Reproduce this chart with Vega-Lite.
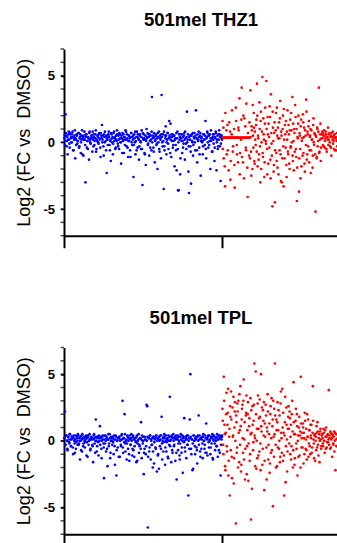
{
"$schema":"https://vega.github.io/schema/vega-lite/v6.json",
"padding":{"left":15,"top":10,"right":0,"bottom":0},
"bounds":"flush",
"spacing":111.5,
"config":{
 "font":"Liberation Sans",
 "view":{"stroke":null},
 "axisY":{"domainColor":"black","domainWidth":2,"tickColor":"black","tickWidth":1.5,"tickSize":3.5,"labelFontSize":13,"labelFontWeight":"bold","labelColor":"black","labelPadding":6,"labelOverlap":false,"titleFontSize":18,"titleFontWeight":"normal","titleColor":"black","titlePadding":9,"grid":false},
 "axisX":{"domainColor":"black","domainWidth":2,"tickColor":"black","tickWidth":2,"tickSize":12,"labels":false,"grid":false},
 "title":{"fontSize":18.5,"fontWeight":"bold","color":"black","offset":19,"anchor":"middle"}
},
"datasets":{
"minor":[{"v":-7},{"v":-6},{"v":-5},{"v":-4},{"v":-3},{"v":-2},{"v":-1},{"v":0},{"v":1},{"v":2},{"v":3},{"v":4},{"v":5},{"v":6},{"v":7}],
"blue":[
{"x":0.2,"t":0.3,"p":0.2},{"x":0.6,"t":-0.2,"p":2.2},{"x":1.0,"t":2.1,"p":-0.3},{"x":1.5,"t":0.5,"p":0.4},{"x":1.9,"t":0.1,"p":0.0},{"x":2.3,"t":-0.9,"p":-0.7},{"x":2.8,"t":0.6,"p":0.3},{"x":3.2,"t":0.2,"p":-0.1},{"x":3.6,"t":-0.4,"p":0.5},{"x":4.1,"t":0.7,"p":0.1},
{"x":4.5,"t":0.4,"p":-0.4},{"x":4.9,"t":0.0,"p":0.3},{"x":5.4,"t":0.8,"p":0.2},{"x":5.8,"t":-0.6,"p":-1.0},{"x":6.2,"t":0.3,"p":0.4},{"x":6.7,"t":0.5,"p":-0.2},{"x":7.1,"t":-1.2,"p":0.1},{"x":7.5,"t":0.2,"p":-0.6},{"x":8.0,"t":0.6,"p":0.3},{"x":8.4,"t":-0.1,"p":0.0},
{"x":8.8,"t":0.1,"p":0.5},{"x":9.3,"t":0.7,"p":-0.3},{"x":9.7,"t":-0.3,"p":0.2},{"x":10.1,"t":0.4,"p":-1.4},{"x":10.6,"t":-0.8,"p":0.0},{"x":11.0,"t":0.2,"p":0.4},{"x":11.4,"t":0.9,"p":-0.8},{"x":11.9,"t":0.3,"p":0.2},{"x":12.3,"t":-1.0,"p":-0.2},{"x":12.7,"t":0.5,"p":0.3},
{"x":13.2,"t":0.2,"p":-0.5},{"x":13.6,"t":-3.0,"p":0.1},{"x":14.0,"t":0.6,"p":0.4},{"x":14.5,"t":-0.4,"p":-0.1},{"x":14.9,"t":0.1,"p":-1.2},{"x":15.3,"t":0.4,"p":0.3},{"x":15.8,"t":-1.3,"p":0.0},{"x":16.2,"t":0.8,"p":0.5},{"x":16.6,"t":0.0,"p":-0.7},{"x":17.1,"t":0.3,"p":0.2},
{"x":17.5,"t":0.5,"p":0.1},{"x":17.9,"t":-0.7,"p":-0.3},{"x":18.4,"t":0.2,"p":-1.6},{"x":18.8,"t":0.6,"p":0.4},{"x":19.2,"t":-0.2,"p":0.2},{"x":19.7,"t":0.3,"p":-0.9},{"x":20.1,"t":0.9,"p":1.6},{"x":20.5,"t":-0.5,"p":0.0},{"x":21.0,"t":0.1,"p":-0.4},{"x":21.4,"t":0.4,"p":0.3},
{"x":21.8,"t":-0.1,"p":-1.1},{"x":22.3,"t":0.7,"p":0.2},{"x":22.7,"t":0.3,"p":1.1},{"x":23.1,"t":-1.1,"p":0.3},{"x":23.6,"t":0.5,"p":-0.6},{"x":24.0,"t":1.3,"p":0.0},{"x":24.4,"t":0.2,"p":0.4},{"x":24.9,"t":-0.3,"p":-0.2},{"x":25.3,"t":0.6,"p":-2.8},{"x":25.7,"t":0.0,"p":0.1},
{"x":26.2,"t":0.4,"p":0.4},{"x":26.6,"t":-0.6,"p":-0.8},{"x":27.0,"t":-2.3,"p":0.2},{"x":27.5,"t":0.2,"p":-1.9},{"x":27.9,"t":0.5,"p":0.1},{"x":28.3,"t":0.8,"p":-0.4},{"x":28.8,"t":-0.2,"p":0.5},{"x":29.2,"t":0.1,"p":-1.3},{"x":29.6,"t":-1.4,"p":0.0},{"x":30.1,"t":0.6,"p":0.2},
{"x":30.5,"t":0.3,"p":-0.3},{"x":30.9,"t":-0.9,"p":0.3},{"x":31.4,"t":0.7,"p":-1.0},{"x":31.8,"t":0.1,"p":0.1},{"x":32.2,"t":0.4,"p":-1.8},{"x":32.7,"t":-0.4,"p":0.4},{"x":33.1,"t":0.2,"p":-2.6},{"x":33.5,"t":0.9,"p":0.0},{"x":34.0,"t":-0.1,"p":-0.5},{"x":34.4,"t":0.5,"p":0.2},
{"x":34.8,"t":-0.5,"p":0.3},{"x":35.3,"t":0.6,"p":-1.2},{"x":35.7,"t":0.0,"p":0.1},{"x":36.1,"t":-1.6,"p":-0.4},{"x":36.6,"t":0.3,"p":0.5},{"x":37.0,"t":0.7,"p":3.0},{"x":37.4,"t":0.1,"p":-0.9},{"x":37.9,"t":-0.8,"p":0.2},{"x":38.3,"t":0.4,"p":2.0},{"x":38.7,"t":0.2,"p":-0.2},
{"x":39.2,"t":0.8,"p":0.0},{"x":39.6,"t":-0.3,"p":-1.4},{"x":40.0,"t":0.3,"p":0.4},{"x":40.5,"t":-1.1,"p":-0.6},{"x":40.9,"t":0.5,"p":0.2},{"x":41.3,"t":0.1,"p":-1.5},{"x":41.8,"t":-0.6,"p":0.1},{"x":42.2,"t":0.4,"p":-0.3},{"x":42.6,"t":0.7,"p":0.5},{"x":43.1,"t":-0.2,"p":-1.1},
{"x":43.5,"t":0.2,"p":0.3},{"x":43.9,"t":-2.6,"p":-0.7},{"x":44.4,"t":0.6,"p":-1.2},{"x":44.8,"t":0.0,"p":0.2},{"x":45.2,"t":-0.9,"p":0.0},{"x":45.7,"t":0.4,"p":-1.6},{"x":46.1,"t":0.8,"p":0.4},{"x":46.5,"t":-0.4,"p":-0.2},{"x":47.0,"t":0.3,"p":0.1},{"x":47.4,"t":-1.3,"p":-0.9},
{"x":47.8,"t":0.5,"p":-0.4},{"x":48.3,"t":0.1,"p":0.2},{"x":48.7,"t":-0.5,"p":1.4},{"x":49.1,"t":0.9,"p":-1.3},{"x":49.6,"t":-3.2,"p":0.0},{"x":50.0,"t":0.3,"p":0.3},{"x":50.4,"t":0.6,"p":-2.5},{"x":50.9,"t":-0.8,"p":-0.6},{"x":51.3,"t":0.2,"p":0.1},{"x":51.7,"t":-1.7,"p":-1.0},
{"x":52.2,"t":1.0,"p":2.7},{"x":52.6,"t":0.4,"p":2.6},{"x":53.0,"t":-0.2,"p":-6.5},{"x":53.5,"t":0.6,"p":0.2},{"x":53.9,"t":-1.0,"p":-0.8},{"x":54.3,"t":0.1,"p":0.4},{"x":54.8,"t":0.5,"p":-1.4},{"x":55.2,"t":-0.6,"p":0.0},{"x":55.6,"t":3.4,"p":-0.3},{"x":56.1,"t":0.3,"p":-2.0},
{"x":56.5,"t":-0.4,"p":0.3},{"x":56.9,"t":0.7,"p":-1.7},{"x":57.4,"t":-1.5,"p":0.1},{"x":57.8,"t":0.2,"p":-0.5},{"x":58.2,"t":0.5,"p":0.4},{"x":58.7,"t":-0.1,"p":-2.3},{"x":59.1,"t":-2.0,"p":0.2},{"x":59.5,"t":0.4,"p":-1.0},{"x":60.0,"t":0.8,"p":-2.1},{"x":60.4,"t":-0.7,"p":0.0},
{"x":60.8,"t":0.3,"p":0.4},{"x":61.3,"t":-1.2,"p":-0.6},{"x":61.7,"t":3.55,"p":1.8},{"x":62.1,"t":0.0,"p":-1.4},{"x":62.6,"t":0.6,"p":0.2},{"x":63.0,"t":-3.5,"p":-0.1},{"x":63.4,"t":-0.3,"p":0.5},{"x":63.9,"t":0.5,"p":-1.8},{"x":64.3,"t":1.2,"p":0.0},{"x":64.7,"t":-0.9,"p":-0.8},
{"x":65.2,"t":0.2,"p":0.1},{"x":65.6,"t":0.7,"p":-1.2},{"x":66.0,"t":-0.5,"p":0.4},{"x":66.5,"t":1.6,"p":-0.3},{"x":66.9,"t":0.4,"p":3.3},{"x":67.3,"t":1.4,"p":0.0},{"x":67.8,"t":-1.1,"p":-1.6},{"x":68.2,"t":0.1,"p":0.3},{"x":68.6,"t":0.6,"p":-0.9},{"x":69.1,"t":-0.2,"p":0.5},
{"x":69.5,"t":0.5,"p":-0.4},{"x":69.9,"t":-1.8,"p":0.2},{"x":70.4,"t":0.3,"p":-1.5},{"x":70.8,"t":-0.6,"p":0.4},{"x":71.2,"t":-2.1,"p":-2.9},{"x":71.7,"t":0.8,"p":0.1},{"x":72.1,"t":-3.6,"p":-0.7},{"x":72.5,"t":-3.6,"p":0.3},{"x":73.0,"t":0.2,"p":-1.1},{"x":73.4,"t":-2.4,"p":-0.2},
{"x":73.8,"t":0.6,"p":0.5},{"x":74.3,"t":0.1,"p":-0.9},{"x":74.7,"t":-0.8,"p":0.0},{"x":75.1,"t":0.4,"p":-2.4},{"x":75.6,"t":-0.1,"p":0.3},{"x":76.0,"t":0.7,"p":1.7},{"x":76.4,"t":-1.3,"p":-0.5},{"x":76.9,"t":0.3,"p":0.2},{"x":77.3,"t":-0.5,"p":-1.3},{"x":77.7,"t":2.3,"p":0.4},
{"x":78.2,"t":0.2,"p":-0.3},{"x":78.6,"t":-2.2,"p":-4.1},{"x":79.0,"t":-3.8,"p":0.2},{"x":79.5,"t":0.5,"p":1.6},{"x":79.9,"t":-0.3,"p":5.0},{"x":80.3,"t":-3.1,"p":-0.6},{"x":80.8,"t":0.6,"p":0.1},{"x":81.2,"t":0.0,"p":-2.2},{"x":81.6,"t":-1.0,"p":-2.1},{"x":82.1,"t":0.4,"p":0.4},
{"x":82.5,"t":0.7,"p":0.0},{"x":82.9,"t":-0.6,"p":-1.0},{"x":83.4,"t":2.4,"p":0.3},{"x":83.8,"t":0.3,"p":-0.5},{"x":84.2,"t":-1.5,"p":-1.7},{"x":84.7,"t":0.1,"p":0.4},{"x":85.1,"t":0.8,"p":1.9},{"x":85.5,"t":-0.4,"p":0.1},{"x":86.0,"t":0.5,"p":-0.8},{"x":86.4,"t":-2.5,"p":0.2},
{"x":86.8,"t":0.3,"p":-0.6},{"x":87.3,"t":0.0,"p":0.3},{"x":87.7,"t":-0.9,"p":-1.3},{"x":88.1,"t":0.6,"p":0.5},{"x":88.6,"t":0.2,"p":0.0},{"x":89.0,"t":-0.2,"p":-0.3},{"x":89.4,"t":1.6,"p":-0.9},{"x":89.9,"t":-1.2,"p":1.3},{"x":90.3,"t":0.4,"p":0.2},{"x":90.7,"t":0.7,"p":-1.1},
{"x":91.2,"t":-0.4,"p":0.4},{"x":91.6,"t":0.5,"p":-0.5},{"x":92.0,"t":0.1,"p":0.1},{"x":92.5,"t":-2.0,"p":-1.0},{"x":92.9,"t":0.9,"p":0.3},{"x":93.3,"t":0.3,"p":-0.2},{"x":93.8,"t":-0.7,"p":0.5},{"x":94.2,"t":0.6,"p":-1.4},{"x":94.6,"t":-0.1,"p":0.0},{"x":95.1,"t":-1.4,"p":0.3},
{"x":95.5,"t":0.4,"p":-0.7},{"x":95.9,"t":0.8,"p":0.2},{"x":96.4,"t":-2.1,"p":-0.4},{"x":96.8,"t":0.2,"p":0.5},{"x":97.2,"t":-0.5,"p":-1.2},{"x":97.7,"t":0.6,"p":0.1},{"x":98.1,"t":0.9,"p":0.4},{"x":98.5,"t":-0.3,"p":-0.9},{"x":99.0,"t":-2.9,"p":-2.6},{"x":99.4,"t":0.5,"p":0.3},{"x":99.8,"t":0.3,"p":0.4},
{"x":0.4,"t":0.5,"p":0.2},{"x":0.8,"t":0.1,"p":-0.3},{"x":1.2,"t":0.7,"p":0.4},{"x":1.7,"t":-0.3,"p":0.0},{"x":2.1,"t":0.4,"p":-0.6},{"x":2.5,"t":0.2,"p":0.3},{"x":3.0,"t":0.8,"p":0.1},{"x":3.4,"t":-0.1,"p":-0.2},{"x":3.8,"t":0.6,"p":0.5},{"x":4.3,"t":0.3,"p":-0.4},
{"x":4.7,"t":0.0,"p":0.1},{"x":5.1,"t":0.6,"p":0.3},{"x":5.6,"t":0.4,"p":-0.5},{"x":6.0,"t":-0.6,"p":0.2},{"x":6.4,"t":0.2,"p":0.0},{"x":6.9,"t":0.9,"p":-0.9},{"x":7.3,"t":0.3,"p":0.4},{"x":7.7,"t":-0.2,"p":-0.1},{"x":8.2,"t":0.5,"p":0.2},{"x":8.6,"t":0.1,"p":-0.3},
{"x":9.0,"t":0.7,"p":0.4},{"x":9.5,"t":-0.4,"p":-0.2},{"x":9.9,"t":0.3,"p":0.0},{"x":10.3,"t":0.6,"p":0.3},{"x":10.8,"t":0.0,"p":-0.7},{"x":11.2,"t":0.5,"p":0.1},{"x":11.6,"t":-0.9,"p":0.5},{"x":12.1,"t":0.4,"p":-0.4},{"x":12.5,"t":0.2,"p":0.2},{"x":12.9,"t":0.8,"p":0.0},
{"x":13.4,"t":-0.2,"p":-0.1},{"x":13.8,"t":0.4,"p":0.3},{"x":14.2,"t":0.6,"p":-1.1},{"x":14.7,"t":0.1,"p":0.2},{"x":15.1,"t":-0.5,"p":0.4},{"x":15.5,"t":0.3,"p":-0.3},{"x":16.0,"t":0.7,"p":0.0},{"x":16.4,"t":0.2,"p":0.1},{"x":16.8,"t":-0.1,"p":-0.6},{"x":17.3,"t":0.5,"p":0.3},
{"x":17.7,"t":0.3,"p":0.2},{"x":18.1,"t":0.8,"p":-0.4},{"x":18.6,"t":-0.3,"p":0.1},{"x":19.0,"t":0.4,"p":0.5},{"x":19.4,"t":0.1,"p":-0.2},{"x":19.9,"t":0.6,"p":0.0},{"x":20.3,"t":-0.7,"p":0.3},{"x":20.7,"t":0.2,"p":-0.8},{"x":21.2,"t":0.5,"p":0.2},{"x":21.6,"t":0.0,"p":-0.1},
{"x":22.0,"t":0.6,"p":0.4},{"x":22.5,"t":0.2,"p":0.0},{"x":22.9,"t":-0.4,"p":-0.3},{"x":23.3,"t":0.7,"p":0.2},{"x":23.8,"t":0.3,"p":-1.3},{"x":24.2,"t":0.0,"p":0.3},{"x":24.6,"t":0.5,"p":0.1},{"x":25.1,"t":-1.0,"p":-0.5},{"x":25.5,"t":0.4,"p":0.4},{"x":25.9,"t":0.8,"p":-0.2},
{"x":26.4,"t":0.1,"p":0.0},{"x":26.8,"t":0.5,"p":0.3},{"x":27.2,"t":0.3,"p":-0.6},{"x":27.7,"t":-0.2,"p":0.1},{"x":28.1,"t":0.6,"p":0.5},{"x":28.5,"t":0.4,"p":-0.2},{"x":29.0,"t":-0.6,"p":0.2},{"x":29.4,"t":0.2,"p":-0.9},{"x":29.8,"t":0.7,"p":0.3},{"x":30.3,"t":0.0,"p":0.0},
{"x":30.7,"t":0.4,"p":0.2},{"x":31.1,"t":-0.1,"p":-0.1},{"x":31.6,"t":0.8,"p":0.4},{"x":32.0,"t":0.3,"p":-0.4},{"x":32.4,"t":-0.5,"p":0.1},{"x":32.9,"t":0.5,"p":0.3},{"x":33.3,"t":0.1,"p":-0.7},{"x":33.7,"t":0.6,"p":0.0},{"x":34.2,"t":-0.3,"p":0.2},{"x":34.6,"t":0.2,"p":-1.2},
{"x":35.0,"t":0.7,"p":0.3},{"x":35.5,"t":0.3,"p":0.0},{"x":35.9,"t":0.0,"p":-0.3},{"x":36.3,"t":0.5,"p":0.4},{"x":36.8,"t":-0.8,"p":0.1},{"x":37.2,"t":0.2,"p":-0.5},{"x":37.6,"t":0.6,"p":0.2},{"x":38.1,"t":0.4,"p":-0.1},{"x":38.5,"t":-0.2,"p":0.5},{"x":38.9,"t":0.9,"p":-0.8},
{"x":39.4,"t":0.2,"p":0.1},{"x":39.8,"t":0.6,"p":-0.2},{"x":40.2,"t":-0.4,"p":0.3},{"x":40.7,"t":0.1,"p":0.0},{"x":41.1,"t":0.5,"p":-1.0},{"x":41.5,"t":0.3,"p":0.4},{"x":42.0,"t":-1.1,"p":-0.3},{"x":42.4,"t":0.7,"p":0.2},{"x":42.8,"t":0.0,"p":0.0},{"x":43.3,"t":0.4,"p":-0.6},
{"x":43.7,"t":0.5,"p":0.4},{"x":44.1,"t":-0.2,"p":0.1},{"x":44.6,"t":0.3,"p":-0.4},{"x":45.0,"t":0.8,"p":0.2},{"x":45.4,"t":0.1,"p":-0.1},{"x":45.9,"t":-0.6,"p":0.3},{"x":46.3,"t":0.4,"p":-1.5},{"x":46.7,"t":0.6,"p":0.0},{"x":47.2,"t":0.2,"p":0.5},{"x":47.6,"t":-0.3,"p":-0.3},
{"x":48.0,"t":0.6,"p":0.2},{"x":48.5,"t":0.0,"p":-0.6},{"x":48.9,"t":0.4,"p":0.1},{"x":49.3,"t":-0.5,"p":0.4},{"x":49.8,"t":0.7,"p":-0.2},{"x":50.2,"t":0.2,"p":0.0},{"x":50.6,"t":0.3,"p":-0.9},{"x":51.1,"t":-0.9,"p":0.3},{"x":51.5,"t":0.5,"p":0.1},{"x":51.9,"t":0.1,"p":-0.4},
{"x":52.4,"t":0.3,"p":0.0},{"x":52.8,"t":0.7,"p":0.3},{"x":53.2,"t":-0.1,"p":-1.2},{"x":53.7,"t":0.4,"p":0.2},{"x":54.1,"t":0.6,"p":-0.5},{"x":54.5,"t":-0.4,"p":0.4},{"x":55.0,"t":0.2,"p":0.1},{"x":55.4,"t":0.8,"p":-0.3},{"x":55.8,"t":0.0,"p":0.2},{"x":56.3,"t":0.5,"p":-0.8},
{"x":56.7,"t":-0.7,"p":0.3},{"x":57.1,"t":0.4,"p":-0.1},{"x":57.6,"t":0.1,"p":0.2},{"x":58.0,"t":0.6,"p":-0.6},{"x":58.4,"t":-0.2,"p":0.4},{"x":58.9,"t":0.3,"p":0.0},{"x":59.3,"t":0.7,"p":-1.1},{"x":59.7,"t":0.0,"p":0.1},{"x":60.2,"t":-0.5,"p":0.3},{"x":60.6,"t":0.5,"p":-0.4},
{"x":61.0,"t":0.2,"p":0.1},{"x":61.5,"t":0.6,"p":0.4},{"x":61.9,"t":0.4,"p":-0.2},{"x":62.3,"t":-0.3,"p":0.0},{"x":62.8,"t":0.1,"p":-0.8},{"x":63.2,"t":0.8,"p":0.3},{"x":63.6,"t":-0.6,"p":0.2},{"x":64.1,"t":0.3,"p":-0.5},{"x":64.5,"t":0.5,"p":0.4},{"x":64.9,"t":0.0,"p":-0.1},
{"x":65.4,"t":0.7,"p":0.2},{"x":65.8,"t":-0.1,"p":-1.3},{"x":66.2,"t":0.3,"p":0.0},{"x":66.7,"t":0.5,"p":0.3},{"x":67.1,"t":-0.8,"p":-0.4},{"x":67.5,"t":0.2,"p":0.1},{"x":68.0,"t":0.6,"p":0.4},{"x":68.4,"t":0.4,"p":-0.7},{"x":68.8,"t":-0.4,"p":0.2},{"x":69.3,"t":0.1,"p":0.0},
{"x":69.7,"t":0.5,"p":-0.3},{"x":70.1,"t":0.2,"p":0.3},{"x":70.6,"t":-0.2,"p":0.1},{"x":71.0,"t":0.7,"p":-0.9},{"x":71.4,"t":0.3,"p":0.2},{"x":71.9,"t":-0.5,"p":0.4},{"x":72.3,"t":0.0,"p":-0.2},{"x":72.7,"t":0.6,"p":0.0},{"x":73.2,"t":0.4,"p":-1.4},{"x":73.6,"t":-1.2,"p":0.3},
{"x":74.0,"t":0.3,"p":0.1},{"x":74.5,"t":0.6,"p":-0.5},{"x":74.9,"t":0.1,"p":0.4},{"x":75.3,"t":-0.4,"p":0.2},{"x":75.8,"t":0.5,"p":-0.1},{"x":76.2,"t":0.2,"p":0.0},{"x":76.6,"t":0.8,"p":-0.8},{"x":77.1,"t":-0.1,"p":0.3},{"x":77.5,"t":0.4,"p":0.1},{"x":77.9,"t":0.0,"p":-0.3},
{"x":78.4,"t":0.6,"p":0.4},{"x":78.8,"t":-0.3,"p":0.0},{"x":79.2,"t":0.4,"p":-0.6},{"x":79.7,"t":0.2,"p":0.2},{"x":80.1,"t":-0.7,"p":0.3},{"x":80.5,"t":0.5,"p":-1.0},{"x":81.0,"t":0.1,"p":0.1},{"x":81.4,"t":0.7,"p":-0.2},{"x":81.8,"t":-0.2,"p":0.4},{"x":82.3,"t":0.3,"p":0.0},
{"x":82.7,"t":0.0,"p":-0.4},{"x":83.1,"t":0.5,"p":0.2},{"x":83.6,"t":0.3,"p":0.1},{"x":84.0,"t":-0.6,"p":-0.7},{"x":84.4,"t":0.6,"p":0.3},{"x":84.9,"t":0.2,"p":0.0},{"x":85.3,"t":0.4,"p":-0.3},{"x":85.7,"t":-0.9,"p":0.4},{"x":86.2,"t":0.7,"p":-1.2},{"x":86.6,"t":0.1,"p":0.2},
{"x":87.0,"t":0.4,"p":0.1},{"x":87.5,"t":0.1,"p":-0.2},{"x":87.9,"t":-0.3,"p":0.3},{"x":88.3,"t":0.6,"p":0.0},{"x":88.8,"t":0.2,"p":-0.6},{"x":89.2,"t":0.5,"p":0.4},{"x":89.6,"t":-0.5,"p":0.2},{"x":90.1,"t":0.3,"p":-0.9},{"x":90.5,"t":0.8,"p":0.1},{"x":90.9,"t":0.0,"p":0.3},
{"x":91.4,"t":0.5,"p":-0.1},{"x":91.8,"t":-0.2,"p":0.4},{"x":92.2,"t":0.6,"p":0.0},{"x":92.7,"t":0.3,"p":-0.5},{"x":93.1,"t":0.1,"p":0.2},{"x":93.5,"t":-0.7,"p":0.3},{"x":94.0,"t":0.4,"p":-1.3},{"x":94.4,"t":0.2,"p":0.1},{"x":94.8,"t":0.6,"p":0.4},{"x":95.3,"t":-0.4,"p":-0.2},
{"x":95.7,"t":0.3,"p":0.2},{"x":96.1,"t":0.7,"p":0.0},{"x":96.6,"t":0.0,"p":-0.4},{"x":97.0,"t":0.5,"p":0.3},{"x":97.4,"t":-0.3,"p":0.1},{"x":97.9,"t":0.2,"p":-0.7},{"x":98.3,"t":0.6,"p":0.4},{"x":98.7,"t":0.4,"p":0.2},{"x":99.2,"t":-0.1,"p":-0.3},{"x":99.6,"t":0.5,"p":0.1},{"x":99.9,"t":0.2,"p":0.3}
],
"red":[
{"x":100.2,"t":1.6,"p":2.4},{"x":100.6,"t":0.35,"p":-0.3},{"x":101.0,"t":-1.2,"p":4.8},{"x":101.4,"t":0.35,"p":1.2},{"x":101.8,"t":-3.3,"p":-1.9},{"x":102.3,"t":0.35,"p":0.6},{"x":102.7,"t":0.9,"p":3.6},{"x":103.1,"t":0.35,"p":-0.8},{"x":103.5,"t":-0.6,"p":2.1},{"x":103.9,"t":0.35,"p":-2.6},
{"x":104.4,"t":1.5,"p":0.3},{"x":104.8,"t":0.35,"p":-4.1},{"x":105.2,"t":-2.8,"p":1.8},{"x":105.6,"t":0.35,"p":3.7},{"x":106.0,"t":0.6,"p":-1.2},{"x":106.5,"t":0.35,"p":2.5},{"x":106.9,"t":-0.3,"p":0.4},{"x":107.3,"t":0.35,"p":-3.2},{"x":107.7,"t":-1.7,"p":1.0},{"x":108.1,"t":0.35,"p":2.9},
{"x":108.6,"t":2.6,"p":-6.2},{"x":109.0,"t":0.35,"p":1.4},{"x":109.4,"t":-0.9,"p":-0.5},{"x":109.8,"t":0.35,"p":2.2},{"x":110.2,"t":1.1,"p":3.0},{"x":110.7,"t":0.35,"p":-1.6},{"x":111.1,"t":-2.4,"p":0.8},{"x":111.5,"t":0.35,"p":4.1},{"x":111.9,"t":0.2,"p":-2.3},{"x":112.3,"t":4.1,"p":1.6},
{"x":112.8,"t":0.35,"p":2.7},{"x":113.2,"t":-1.5,"p":-0.9},{"x":113.6,"t":0.35,"p":4.6},{"x":114.0,"t":1.8,"p":0.1},{"x":114.4,"t":0.35,"p":-2.9},{"x":114.9,"t":-0.4,"p":1.9},{"x":115.3,"t":2.9,"p":3.4},{"x":115.7,"t":0.35,"p":-0.4},{"x":116.1,"t":-4.1,"p":2.0},{"x":116.5,"t":0.35,"p":-3.0},
{"x":117.0,"t":-1.0,"p":1.1},{"x":117.4,"t":0.35,"p":-1.5},{"x":117.8,"t":3.9,"p":3.2},{"x":118.2,"t":-0.7,"p":-5.9},{"x":118.6,"t":1.2,"p":0.6},{"x":119.1,"t":-2.0,"p":2.6},{"x":119.5,"t":0.5,"p":-0.7},{"x":119.9,"t":2.2,"p":1.5},{"x":120.3,"t":-1.4,"p":5.8},{"x":120.7,"t":0.8,"p":0.2},
{"x":121.2,"t":-0.2,"p":5.2},{"x":121.6,"t":1.7,"p":-2.1},{"x":122.0,"t":4.4,"p":0.9},{"x":122.4,"t":-1.8,"p":2.8},{"x":122.8,"t":0.3,"p":-1.1},{"x":123.3,"t":-0.9,"p":1.7},{"x":123.7,"t":1.0,"p":3.1},{"x":124.1,"t":-3.0,"p":-0.2},{"x":124.5,"t":2.3,"p":5.0},{"x":124.9,"t":0.0,"p":0.7},
{"x":125.4,"t":4.9,"p":-1.8},{"x":125.8,"t":-1.1,"p":2.3},{"x":126.2,"t":0.6,"p":0.4},{"x":126.6,"t":-2.6,"p":-3.7},{"x":127.0,"t":1.4,"p":1.3},{"x":127.5,"t":0.1,"p":2.7},{"x":127.9,"t":4.6,"p":-0.5},{"x":128.3,"t":-0.5,"p":1.0},{"x":128.7,"t":1.9,"p":3.5},{"x":129.1,"t":-1.6,"p":-1.4},
{"x":129.6,"t":0.4,"p":0.5},{"x":130.0,"t":2.7,"p":-2.4},{"x":130.4,"t":-1.3,"p":2.0},{"x":130.8,"t":3.6,"p":-0.9},{"x":131.2,"t":-0.1,"p":3.2},{"x":131.7,"t":-4.8,"p":1.1},{"x":132.1,"t":1.1,"p":-4.9},{"x":132.5,"t":-2.2,"p":0.3},{"x":132.9,"t":0.7,"p":2.4},{"x":133.3,"t":-4.5,"p":5.8},
{"x":133.8,"t":0.9,"p":-0.3},{"x":134.2,"t":-0.8,"p":1.6},{"x":134.6,"t":2.6,"p":-1.9},{"x":135.0,"t":-1.9,"p":2.9},{"x":135.4,"t":0.3,"p":0.8},{"x":135.9,"t":1.5,"p":-0.6},{"x":136.3,"t":-0.6,"p":1.9},{"x":136.7,"t":3.1,"p":-1.2},{"x":137.1,"t":-2.9,"p":3.7},{"x":137.5,"t":0.5,"p":0.2},
{"x":138.0,"t":-1.2,"p":3.9},{"x":138.4,"t":2.0,"p":-1.5},{"x":138.8,"t":-3.3,"p":0.6},{"x":139.2,"t":0.2,"p":-4.1},{"x":139.6,"t":1.3,"p":1.4},{"x":140.1,"t":-0.4,"p":-3.1},{"x":140.5,"t":-1.7,"p":2.5},{"x":140.9,"t":0.8,"p":0.1},{"x":141.3,"t":2.4,"p":-0.8},{"x":141.7,"t":-0.9,"p":1.8},
{"x":142.2,"t":0.6,"p":0.9},{"x":142.6,"t":-2.0,"p":2.2},{"x":143.0,"t":1.7,"p":-1.0},{"x":143.4,"t":-0.3,"p":1.2},{"x":143.8,"t":0.9,"p":-0.4},{"x":144.3,"t":3.4,"p":3.0},{"x":144.7,"t":-1.4,"p":-2.0},{"x":145.1,"t":0.1,"p":4.4},{"x":145.5,"t":1.0,"p":0.5},{"x":145.9,"t":-0.7,"p":-1.3},
{"x":146.4,"t":1.9,"p":1.5},{"x":146.8,"t":-1.1,"p":-0.2},{"x":147.2,"t":-4.4,"p":2.0},{"x":147.6,"t":0.4,"p":-2.6},{"x":148.0,"t":1.4,"p":0.4},{"x":148.5,"t":-3.7,"p":1.0},{"x":148.9,"t":0.7,"p":-1.1},{"x":149.3,"t":-0.5,"p":0.7},{"x":149.7,"t":1.2,"p":4.8},{"x":150.1,"t":-1.8,"p":-0.5},
{"x":150.6,"t":0.3,"p":0.6},{"x":151.0,"t":2.1,"p":1.3},{"x":151.4,"t":-0.8,"p":-1.7},{"x":151.8,"t":1.1,"p":0.2},{"x":152.2,"t":-2.2,"p":2.1},{"x":152.7,"t":0.5,"p":-0.6},{"x":153.1,"t":3.2,"p":0.9},{"x":153.5,"t":-1.3,"p":-1.4},{"x":153.9,"t":0.8,"p":0.3},{"x":154.3,"t":-0.3,"p":1.6},
{"x":154.8,"t":1.6,"p":-0.2},{"x":155.2,"t":-0.6,"p":0.8},{"x":155.6,"t":0.5,"p":-1.0},{"x":156.0,"t":-2.3,"p":0.4},{"x":156.4,"t":0.9,"p":1.2},{"x":156.9,"t":0.2,"p":-0.5},{"x":157.3,"t":-1.0,"p":4.1},{"x":157.7,"t":1.8,"p":0.1},{"x":158.1,"t":-0.2,"p":-1.3},{"x":158.5,"t":0.6,"p":0.5},
{"x":159.0,"t":-5.2,"p":0.0},{"x":159.4,"t":0.4,"p":-0.7},{"x":159.8,"t":-1.1,"p":0.6},{"x":160.2,"t":1.0,"p":1.4},{"x":160.6,"t":0.1,"p":-0.3},{"x":161.1,"t":4.1,"p":0.2},{"x":161.5,"t":-0.7,"p":-1.6},{"x":161.9,"t":0.6,"p":0.7},{"x":162.3,"t":-1.4,"p":0.1},{"x":162.7,"t":0.3,"p":-0.4},
{"x":163.2,"t":0.8,"p":0.5},{"x":163.6,"t":-0.2,"p":-0.2},{"x":164.0,"t":0.5,"p":0.9},{"x":164.4,"t":0.9,"p":0.0},{"x":164.8,"t":-0.4,"p":-0.9},{"x":165.3,"t":0.3,"p":0.3},{"x":165.7,"t":0.6,"p":1.0},{"x":166.1,"t":-0.7,"p":-0.5},{"x":166.5,"t":0.4,"p":0.4},{"x":166.9,"t":1.1,"p":-0.1},
{"x":167.4,"t":0.2,"p":3.8},{"x":167.8,"t":0.7,"p":0.2},{"x":168.2,"t":-0.3,"p":-0.6},{"x":168.6,"t":0.5,"p":0.6},{"x":169.0,"t":-1.0,"p":0.1},{"x":169.5,"t":0.4,"p":-1.2},{"x":169.9,"t":0.8,"p":0.4},{"x":170.3,"t":0.1,"p":-0.3},{"x":170.7,"t":-0.5,"p":0.7},{"x":171.1,"t":0.6,"p":0.0},
{"x":171.6,"t":0.3,"p":-2.2},{"x":172.0,"t":-0.6,"p":0.5},{"x":172.4,"t":0.7,"p":-0.4},{"x":172.8,"t":0.2,"p":0.2},
{"x":100.4,"t":-0.5,"p":1.5},{"x":100.8,"t":1.1,"p":-1.0},{"x":101.2,"t":0.35,"p":3.0},{"x":101.6,"t":-1.8,"p":0.5},{"x":102.0,"t":2.2,"p":-2.2},{"x":102.5,"t":0.35,"p":2.0},{"x":102.9,"t":-0.9,"p":-0.4},{"x":103.3,"t":1.3,"p":1.2},{"x":103.7,"t":0.35,"p":3.9},{"x":104.1,"t":-2.1,"p":-1.5},
{"x":104.6,"t":0.35,"p":0.9},{"x":105.0,"t":0.8,"p":2.6},{"x":105.4,"t":-1.4,"p":-0.7},{"x":105.8,"t":0.35,"p":1.6},{"x":106.2,"t":2.4,"p":-2.8},{"x":106.7,"t":-0.7,"p":0.3},{"x":107.1,"t":0.35,"p":3.3},{"x":107.5,"t":1.0,"p":-1.3},{"x":107.9,"t":-3.4,"p":2.2},{"x":108.3,"t":0.35,"p":0.0},
{"x":108.8,"t":1.6,"p":1.9},{"x":109.2,"t":-0.2,"p":-0.9},{"x":109.6,"t":0.35,"p":2.8},{"x":110.0,"t":-1.5,"p":-2.0},{"x":110.4,"t":0.9,"p":0.6},{"x":110.9,"t":3.3,"p":3.5},{"x":111.3,"t":-0.8,"p":-0.3},{"x":111.7,"t":0.35,"p":1.1},{"x":112.1,"t":1.7,"p":-1.8},{"x":112.5,"t":-1.1,"p":2.4},
{"x":113.0,"t":0.35,"p":0.2},{"x":113.4,"t":2.0,"p":3.0},{"x":113.8,"t":-2.7,"p":-1.4},{"x":114.2,"t":0.35,"p":1.4},{"x":114.6,"t":1.2,"p":-0.6},{"x":115.1,"t":-0.6,"p":2.1},{"x":115.5,"t":0.35,"p":-2.5},{"x":115.9,"t":-1.9,"p":0.8},{"x":116.3,"t":0.7,"p":2.9},{"x":116.7,"t":0.35,"p":-0.2},
{"x":117.2,"t":1.5,"p":1.7},{"x":117.6,"t":-1.2,"p":-1.0},{"x":118.0,"t":0.4,"p":0.5},{"x":118.4,"t":-2.5,"p":2.3},{"x":118.8,"t":0.9,"p":-3.6},{"x":119.3,"t":2.8,"p":1.2},{"x":119.7,"t":-0.4,"p":-0.1},{"x":120.1,"t":1.1,"p":2.7},{"x":120.5,"t":-1.6,"p":0.4},{"x":120.9,"t":0.2,"p":-1.9},
{"x":121.4,"t":1.3,"p":2.0},{"x":121.8,"t":-0.7,"p":0.0},{"x":122.2,"t":2.0,"p":-1.3},{"x":122.6,"t":0.5,"p":3.4},{"x":123.0,"t":-1.3,"p":0.9},{"x":123.5,"t":3.0,"p":-0.8},{"x":123.9,"t":-0.3,"p":1.8},{"x":124.3,"t":1.6,"p":-2.2},{"x":124.7,"t":-2.0,"p":1.1},{"x":125.1,"t":0.8,"p":2.5},
{"x":125.6,"t":-0.8,"p":-0.6},{"x":126.0,"t":1.8,"p":1.5},{"x":126.4,"t":0.2,"p":2.9},{"x":126.8,"t":-1.5,"p":-1.5},{"x":127.2,"t":2.6,"p":0.3},{"x":127.7,"t":-0.1,"p":1.9},{"x":128.1,"t":1.0,"p":-2.9},{"x":128.5,"t":-2.4,"p":0.7},{"x":128.9,"t":0.6,"p":2.2},{"x":129.3,"t":1.4,"p":-0.3},
{"x":129.8,"t":-0.4,"p":1.3},{"x":130.2,"t":1.9,"p":-1.7},{"x":130.6,"t":-2.7,"p":2.6},{"x":131.0,"t":0.7,"p":0.2},{"x":131.4,"t":-1.0,"p":-0.7},{"x":131.9,"t":2.3,"p":1.6},{"x":132.3,"t":0.1,"p":3.0},{"x":132.7,"t":-1.7,"p":-1.2},{"x":133.1,"t":1.5,"p":0.5},{"x":133.5,"t":-0.6,"p":1.9},
{"x":134.0,"t":2.2,"p":-2.0},{"x":134.4,"t":-1.4,"p":0.8},{"x":134.8,"t":0.5,"p":1.4},{"x":135.2,"t":1.1,"p":-0.5},{"x":135.6,"t":-2.4,"p":2.3},{"x":136.1,"t":0.3,"p":0.0},{"x":136.5,"t":1.8,"p":-1.6},{"x":136.9,"t":-0.9,"p":2.8},{"x":137.3,"t":0.8,"p":0.6},{"x":137.7,"t":-3.0,"p":-0.9},
{"x":138.2,"t":1.0,"p":1.0},{"x":138.6,"t":-0.3,"p":2.1},{"x":139.0,"t":2.5,"p":-1.1},{"x":139.4,"t":-1.2,"p":0.4},{"x":139.8,"t":0.6,"p":3.3},{"x":140.3,"t":1.6,"p":-0.4},{"x":140.7,"t":-2.6,"p":1.2},{"x":141.1,"t":0.2,"p":-2.3},{"x":141.5,"t":-0.7,"p":0.9},{"x":141.9,"t":1.3,"p":2.6},
{"x":142.4,"t":-1.6,"p":-0.2},{"x":142.8,"t":0.9,"p":1.7},{"x":143.2,"t":-0.4,"p":0.3},{"x":143.6,"t":2.2,"p":-1.4},{"x":144.0,"t":0.0,"p":2.0},{"x":144.5,"t":-1.0,"p":0.7},{"x":144.9,"t":1.4,"p":-0.7},{"x":145.3,"t":-2.1,"p":1.4},{"x":145.7,"t":0.7,"p":-1.8},{"x":146.1,"t":2.8,"p":0.5},
{"x":146.6,"t":-0.5,"p":2.4},{"x":147.0,"t":1.0,"p":-0.6},{"x":147.4,"t":-1.9,"p":1.1},{"x":147.8,"t":0.3,"p":0.0},{"x":148.2,"t":2.0,"p":-1.2},{"x":148.7,"t":-1.2,"p":1.8},{"x":149.1,"t":0.5,"p":0.4},{"x":149.5,"t":-2.7,"p":-2.0},{"x":149.9,"t":1.7,"p":1.3},{"x":150.3,"t":0.1,"p":0.2},
{"x":150.8,"t":-1.0,"p":-0.5},{"x":151.2,"t":1.5,"p":1.0},{"x":151.6,"t":0.4,"p":0.6},{"x":152.0,"t":-1.6,"p":-1.0},{"x":152.4,"t":0.9,"p":1.5},{"x":152.9,"t":-0.2,"p":0.1},{"x":153.3,"t":2.3,"p":-0.7},{"x":153.7,"t":-0.9,"p":2.0},{"x":154.1,"t":0.6,"p":0.3},{"x":154.5,"t":1.2,"p":-1.2},
{"x":155.0,"t":-1.5,"p":0.8},{"x":155.4,"t":0.4,"p":-0.4},{"x":155.8,"t":1.0,"p":1.2},{"x":156.2,"t":-0.6,"p":0.2},{"x":156.6,"t":0.2,"p":-0.9},{"x":157.1,"t":-1.9,"p":0.6},{"x":157.5,"t":1.3,"p":1.5},{"x":157.9,"t":0.0,"p":-0.2},{"x":158.3,"t":0.7,"p":0.4},{"x":158.7,"t":-0.9,"p":-1.5},
{"x":159.2,"t":0.5,"p":0.3},{"x":159.6,"t":-1.2,"p":1.1},{"x":160.0,"t":1.1,"p":-0.5},{"x":160.4,"t":-0.3,"p":0.7},{"x":160.8,"t":0.8,"p":-1.1},{"x":161.3,"t":-0.8,"p":0.5},{"x":161.7,"t":0.2,"p":0.0},{"x":162.1,"t":1.4,"p":0.9},{"x":162.5,"t":-0.4,"p":-0.6},{"x":162.9,"t":0.6,"p":0.4},
{"x":163.4,"t":0.3,"p":0.2},{"x":163.8,"t":0.7,"p":-0.4},{"x":164.2,"t":-0.3,"p":0.6},{"x":164.6,"t":0.5,"p":0.0},{"x":165.0,"t":0.1,"p":0.8},{"x":165.5,"t":0.8,"p":-0.6},{"x":165.9,"t":-0.5,"p":0.3},{"x":166.3,"t":0.4,"p":-0.1},{"x":166.7,"t":0.2,"p":0.5},{"x":167.1,"t":-0.2,"p":0.1},
{"x":167.6,"t":0.6,"p":-0.3},{"x":168.0,"t":0.0,"p":0.4},{"x":168.4,"t":0.4,"p":0.7},{"x":168.8,"t":-0.4,"p":-0.5},{"x":169.2,"t":0.7,"p":0.2},{"x":169.7,"t":0.2,"p":0.5},{"x":170.1,"t":-0.1,"p":-0.2},{"x":170.5,"t":0.5,"p":0.3},{"x":170.9,"t":0.3,"p":-0.8},{"x":171.3,"t":-0.6,"p":0.6},
{"x":171.8,"t":0.4,"p":0.1},{"x":172.2,"t":0.1,"p":-0.4},{"x":172.6,"t":-0.3,"p":0.5}
]
},
"vconcat":[
{
 "title":"501mel THZ1",
 "width":274,"height":186.7,
 "layer":[
  {"data":{"name":"blue"},"mark":{"type":"circle","size":7,"color":"#0000ff","opacity":1},
   "encoding":{
    "x":{"field":"x","type":"quantitative","scale":{"domain":[0,173.2],"nice":false,"zero":false},"axis":{"values":[0,100],"title":null}},
    "y":{"field":"t","type":"quantitative","scale":{"domain":[-7,7],"nice":false},"axis":{"values":[-5,0,5],"labelExpr":"'' + datum.value","title":"Log2 (FC vs\u00a0 DMSO)"}}}},
  {"data":{"name":"red"},"mark":{"type":"circle","size":7,"color":"#ff0000","opacity":1},
   "encoding":{"x":{"field":"x","type":"quantitative"},"y":{"field":"t","type":"quantitative"}}},
  {"data":{"name":"minor"},"mark":{"type":"tick","orient":"horizontal","color":"black","thickness":1.5,"size":3.5,"xOffset":-1.75},
   "encoding":{"x":{"datum":0},"y":{"field":"v","type":"quantitative"}}},
  {"mark":{"type":"rule","color":"#222222","strokeWidth":1,"strokeDash":[2,3],"opacity":0.7},"encoding":{"y":{"datum":0}}},
  {"mark":{"type":"rule","color":"black","strokeWidth":2},"encoding":{"x":{"datum":100},"y":{"datum":-7},"y2":{"datum":-6.06}}}
 ]
},
{
 "title":"501mel TPL",
 "width":274,"height":186.7,
 "layer":[
  {"data":{"name":"blue"},"mark":{"type":"circle","size":7,"color":"#0000ff","opacity":1},
   "encoding":{
    "x":{"field":"x","type":"quantitative","scale":{"domain":[0,173.2],"nice":false,"zero":false},"axis":{"values":[0,100],"title":null}},
    "y":{"field":"p","type":"quantitative","scale":{"domain":[-7,7],"nice":false},"axis":{"values":[-5,0,5],"labelExpr":"'' + datum.value","title":"Log2 (FC vs\u00a0 DMSO)"}}}},
  {"data":{"name":"red"},"mark":{"type":"circle","size":7,"color":"#ff0000","opacity":1},
   "encoding":{"x":{"field":"x","type":"quantitative"},"y":{"field":"p","type":"quantitative"}}},
  {"data":{"name":"minor"},"mark":{"type":"tick","orient":"horizontal","color":"black","thickness":1.5,"size":3.5,"xOffset":-1.75},
   "encoding":{"x":{"datum":0},"y":{"field":"v","type":"quantitative"}}},
  {"mark":{"type":"rule","color":"#222222","strokeWidth":1,"strokeDash":[2,3],"opacity":0.7},"encoding":{"y":{"datum":0}}},
  {"mark":{"type":"rule","color":"black","strokeWidth":2},"encoding":{"x":{"datum":100},"y":{"datum":-7},"y2":{"datum":-6.06}}}
 ]
}
]
}
